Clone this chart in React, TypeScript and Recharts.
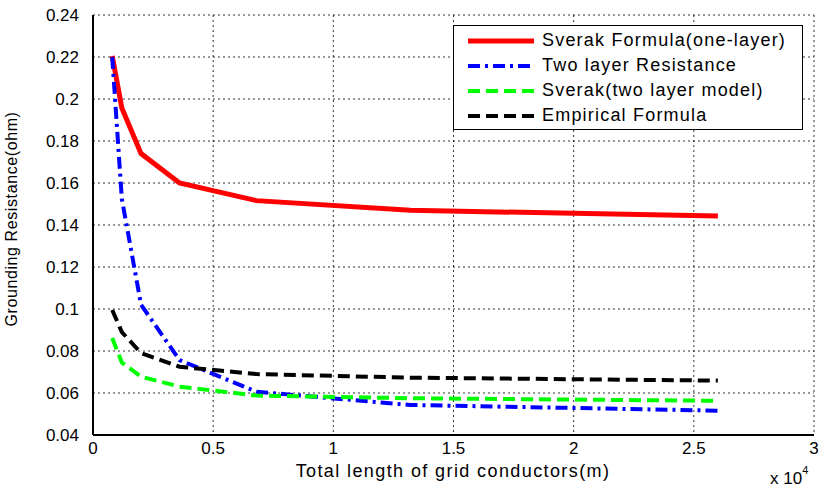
import { LineChart, Line, XAxis, YAxis, CartesianGrid, Legend } from 'recharts'

// total conductor length (m)
const lengths = [800, 1200, 2000, 3600, 6800, 13200, 26000]
const sverakOneLayer = [0.2205, 0.1957, 0.174, 0.16, 0.1516, 0.147, 0.1443]
const twoLayerResistance = [0.22, 0.1524, 0.102, 0.0757, 0.0606, 0.0543, 0.0516]
const sverakTwoLayer = [0.0862, 0.0745, 0.0678, 0.063, 0.0588, 0.0575, 0.0563]
const empirical = [0.0995, 0.089, 0.079, 0.0725, 0.069, 0.0673, 0.0659]

const xTicks = [0, 0.5, 1, 1.5, 2, 2.5, 3]
const yTicks = [0.04, 0.06, 0.08, 0.1, 0.12, 0.14, 0.16, 0.18, 0.2, 0.22, 0.24]

const series = [
  { key: 'one', name: 'Sverak Formula(one-layer)', color: '#ff0000', dash: undefined, width: 5 },
  { key: 'two', name: 'Two layer Resistance', color: '#0000ff', dash: '12 5 3 5', width: 4 },
  { key: 'svt', name: 'Sverak(two layer model)', color: '#00ff00', dash: '12 6', width: 4 },
  { key: 'emp', name: 'Empirical Formula', color: '#000000', dash: '12 6', width: 4 }
]

const data = lengths.map((len, i) => ({
  x: len / 10000,
  one: sverakOneLayer[i],
  two: twoLayerResistance[i],
  svt: sverakTwoLayer[i],
  emp: empirical[i]
}))

const FONT = '"Liberation Sans", Arial, sans-serif'

function LegendBox() {
  return (
    <div
      style={{
        border: '1px solid #000',
        background: '#fff',
        width: 350,
        height: 105,
        boxSizing: 'border-box',
        padding: '2px 0',
        fontFamily: FONT,
        fontSize: 18,
        letterSpacing: 1.2,
        color: '#000'
      }}
    >
      {series.map(s => (
        <div key={s.key} style={{ display: 'flex', alignItems: 'center', height: 25 }}>
          <svg width={86} height={10}>
            <line
              x1={14}
              x2={80}
              y1={5}
              y2={5}
              stroke={s.color}
              strokeWidth={s.width}
              strokeDasharray={s.dash}
            />
          </svg>
          <span style={{ marginLeft: 2, whiteSpace: 'nowrap' }}>{s.name}</span>
        </div>
      ))}
    </div>
  )
}

export default function App() {
  return (
    <div style={{ position: 'absolute', left: 0, top: 0, width: 826, height: 491, background: '#fff' }}>
      <LineChart
        width={826}
        height={491}
        data={data}
        margin={{ top: 15, right: 12, bottom: 26, left: 33 }}
      >
        <CartesianGrid stroke="#000" strokeDasharray="2 3" strokeWidth={0.8} />
        <XAxis
          dataKey="x"
          type="number"
          domain={[0, 3]}
          ticks={xTicks}
          height={30}
          stroke="#000"
          strokeWidth={2}
          tickLine={false}
          tick={{ fill: '#000', fontSize: 17, fontFamily: FONT }}
          tickMargin={1}
        />
        <XAxis xAxisId="top" orientation="top" dataKey="x" type="number" domain={[0, 3]} ticks={xTicks} height={0} stroke="#000" strokeWidth={2} tick={false} tickLine={false} />
        <YAxis
          type="number"
          domain={[0.04, 0.24]}
          ticks={yTicks}
          width={60}
          stroke="#000"
          strokeWidth={2}
          tickLine={false}
          tick={{ fill: '#000', fontSize: 17, fontFamily: FONT }}
          tickMargin={8}
          label={{
            value: 'Grounding Resistance(ohm)',
            angle: -90,
            position: 'insideLeft',
            offset: -22,
            dy: -6,
            style: { textAnchor: 'middle', fill: '#000', fontSize: 16, letterSpacing: 0.6, fontFamily: FONT }
          }}
        />
        <YAxis yAxisId="right" orientation="right" domain={[0.04, 0.24]} width={0} stroke="#000" strokeWidth={2} tick={false} tickLine={false} />
        <Legend
          verticalAlign="middle"
          align="center"
          layout="horizontal"
          content={<LegendBox />}
          wrapperStyle={{ left: 453, top: 25, width: 350 }}
        />
        {series.map(s => (
          <Line
            key={s.key}
            dataKey={s.key}
            name={s.name}
            stroke={s.color}
            strokeWidth={s.width}
            strokeDasharray={s.dash}
            dot={false}
            activeDot={false}
            isAnimationActive={false}
          />
        ))}
      </LineChart>
      <div
        style={{
          position: 'absolute',
          left: 0,
          width: 826,
          top: 461,
          lineHeight: '20px',
          textAlign: 'center',
          paddingLeft: 80,
          boxSizing: 'border-box',
          fontFamily: FONT,
          fontSize: 18,
          letterSpacing: 1.4,
          color: '#000'
        }}
      >
        Total length of grid conductors(m)
      </div>
      <div
        style={{
          position: 'absolute',
          left: 770,
          top: 469,
          fontFamily: FONT,
          fontSize: 17,
          color: '#000'
        }}
      >
        x 10<sup style={{ fontSize: 11, verticalAlign: 'top', position: 'relative', top: -5 }}>4</sup>
      </div>
    </div>
  )
}
